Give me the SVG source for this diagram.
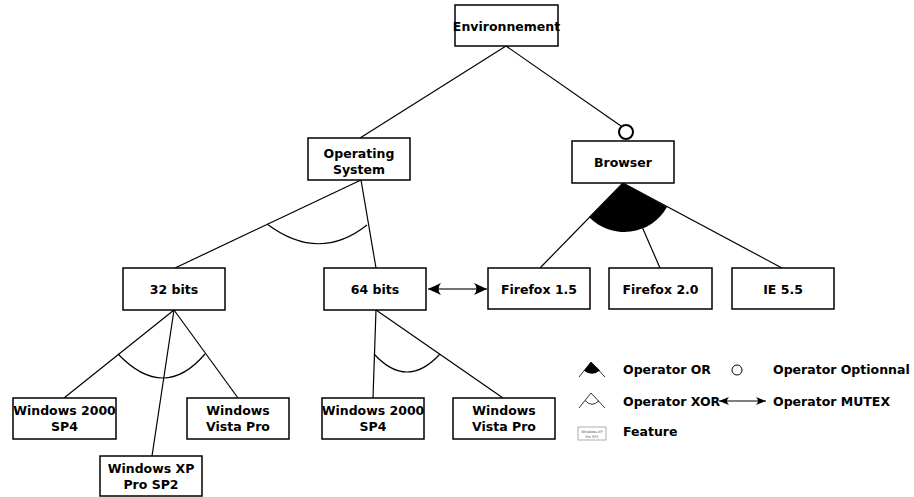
<svg xmlns="http://www.w3.org/2000/svg" width="914" height="497" viewBox="0 0 914 497">
<defs>
<style>
.box{fill:#fff;stroke:#000;stroke-width:1.5}
.t{font-family:"DejaVu Sans",sans-serif;font-weight:bold;font-size:12.5px;text-anchor:middle;fill:#000}
.lt{font-family:"DejaVu Sans",sans-serif;font-weight:bold;font-size:12.5px;fill:#000}
.ln{fill:none;stroke:#000;stroke-width:1.2}
.thin{fill:none;stroke:#000;stroke-width:0.8}
</style>
<marker id="ah" markerUnits="userSpaceOnUse" markerWidth="16" markerHeight="14" viewBox="-14 -7 16 14" refX="0" refY="0" orient="auto-start-reverse">
<path d="M0,0 L-13,-6 Q-8,0 -13,6 Z" fill="#000"/>
</marker>
<marker id="ahs" markerUnits="userSpaceOnUse" markerWidth="12" markerHeight="10" viewBox="-11 -5 12 10" refX="0" refY="0" orient="auto-start-reverse">
<path d="M0,0 L-10,-4 Q-6,0 -10,4 Z" fill="#000"/>
</marker>
</defs>
<rect width="914" height="497" fill="#fff"/>
<g id="connectors">
<line class="ln" x1="506" y1="46" x2="360" y2="138"/>
<line class="ln" x1="506" y1="46" x2="621" y2="126"/>
<circle cx="626" cy="132" r="7" fill="#fff" stroke="#000" stroke-width="2"/>
<line class="ln" x1="361" y1="180" x2="175" y2="268"/>
<line class="ln" x1="361" y1="180" x2="376" y2="268"/>
<path class="ln" d="M267,224 Q319,263 367,225"/>
<line class="ln" x1="623" y1="183" x2="540" y2="268"/>
<line class="ln" x1="623" y1="183" x2="660" y2="268"/>
<line class="ln" x1="623" y1="183" x2="782" y2="268"/>
<path d="M623,183 L589,217 A49,49 0 0 0 667,207 Z" fill="#000"/>
<line x1="428" y1="289" x2="487" y2="289" stroke="#444" stroke-width="1.5" marker-start="url(#ah)" marker-end="url(#ah)"/>
<line class="ln" x1="174" y1="310" x2="64" y2="398"/>
<line class="ln" x1="174" y1="310" x2="152" y2="456"/>
<line class="ln" x1="174" y1="310" x2="238" y2="398"/>
<path class="ln" d="M118,354 Q164,402 205,354"/>
<line class="ln" x1="376" y1="310" x2="373" y2="398"/>
<line class="ln" x1="376" y1="310" x2="503" y2="398"/>
<path class="ln" d="M374,354 Q407,390 440,354"/>
</g>
<g id="environnement"><rect class="box" x="455" y="5" width="103" height="41"/><text class="t" x="506.5" y="31">Environnement</text></g>
<g id="operating-system"><rect class="box" x="308" y="138" width="102" height="42"/><text class="t" x="359" y="158">Operating</text><text class="t" x="359" y="174">System</text></g>
<g id="browser"><rect class="box" x="572" y="141" width="102" height="42"/><text class="t" x="623" y="167">Browser</text></g>
<g id="bits32"><rect class="box" x="123" y="268" width="102" height="42"/><text class="t" x="174" y="294">32 bits</text></g>
<g id="bits64"><rect class="box" x="324" y="268" width="102" height="42"/><text class="t" x="375" y="294">64 bits</text></g>
<g id="firefox15"><rect class="box" x="488" y="268" width="102" height="41"/><text class="t" x="539" y="294">Firefox 1.5</text></g>
<g id="firefox20"><rect class="box" x="609" y="268" width="103" height="41"/><text class="t" x="660.5" y="294">Firefox 2.0</text></g>
<g id="ie55"><rect class="box" x="732" y="268" width="102" height="41"/><text class="t" x="783" y="294">IE 5.5</text></g>
<g id="win2000-32"><rect class="box" x="13" y="398" width="103" height="41"/><text class="t" x="64.5" y="415">Windows 2000</text><text class="t" x="64.5" y="431">SP4</text></g>
<g id="winxp-32"><rect class="box" x="100" y="456" width="102" height="40"/><text class="t" x="151" y="473">Windows XP</text><text class="t" x="151" y="489">Pro SP2</text></g>
<g id="winvista-32"><rect class="box" x="187" y="398" width="102" height="41"/><text class="t" x="238" y="415">Windows</text><text class="t" x="238" y="431">Vista Pro</text></g>
<g id="win2000-64"><rect class="box" x="322" y="398" width="102" height="41"/><text class="t" x="373" y="415">Windows 2000</text><text class="t" x="373" y="431">SP4</text></g>
<g id="winvista-64"><rect class="box" x="453" y="398" width="102" height="41"/><text class="t" x="504" y="415">Windows</text><text class="t" x="504" y="431">Vista Pro</text></g>
<g id="legend">
<path class="thin" d="M579,377 L591,362 L605,377"/>
<path d="M591,362 L584,370.8 Q592,377 600,370.5 Z" fill="#000"/>
<text class="lt" x="623" y="374">Operator OR</text>
<circle cx="737" cy="370" r="5" fill="#fff" stroke="#000" stroke-width="1"/>
<text class="lt" x="773" y="374">Operator Optionnal</text>
<path class="thin" d="M579,408 L591,393 L605,408"/>
<path class="thin" d="M585,400.5 Q592,408 599,400.7"/>
<text class="lt" x="623" y="406">Operator XOR</text>
<line x1="719" y1="401" x2="766" y2="401" stroke="#000" stroke-width="1" marker-start="url(#ahs)" marker-end="url(#ahs)"/>
<text class="lt" x="773" y="406">Operator MUTEX</text>
<rect x="578" y="427" width="28" height="13" fill="#fff" stroke="#999" stroke-width="0.8"/>
<text x="592" y="433" font-family="DejaVu Sans,sans-serif" font-size="3.5" text-anchor="middle" fill="#555">Windows XP</text>
<text x="592" y="438" font-family="DejaVu Sans,sans-serif" font-size="3.5" text-anchor="middle" fill="#555">Pro SP2</text>
<text class="lt" x="623" y="436">Feature</text>
</g>
</svg>
